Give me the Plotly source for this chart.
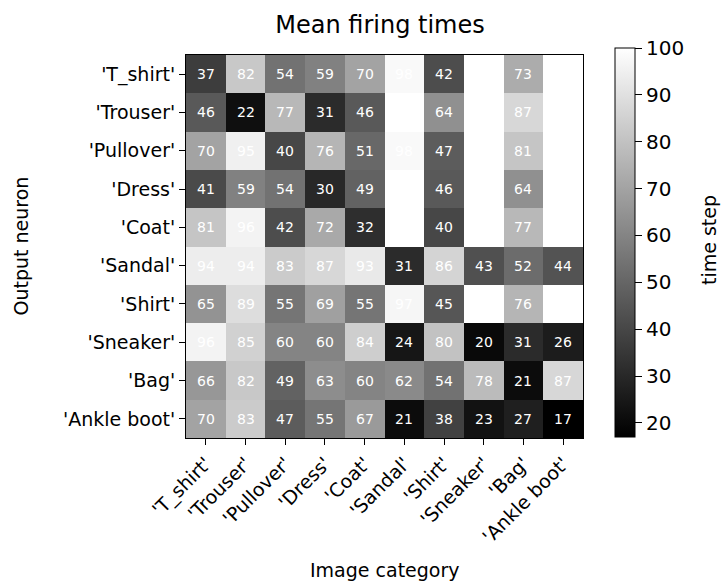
import plotly.graph_objects as go

categories = ["'T_shirt'", "'Trouser'", "'Pullover'", "'Dress'", "'Coat'",
              "'Sandal'", "'Shirt'", "'Sneaker'", "'Bag'", "'Ankle boot'"]

row_tshirt = [37, 82, 54, 59, 70, 98, 42, 100, 73, 100]
row_trouser = [46, 22, 77, 31, 46, 100, 64, 100, 87, 100]
row_pullover = [70, 95, 40, 76, 51, 98, 47, 100, 81, 100]
row_dress = [41, 59, 54, 30, 49, 100, 46, 100, 64, 100]
row_coat = [81, 96, 42, 72, 32, 100, 40, 100, 77, 100]
row_sandal = [94, 94, 83, 87, 93, 31, 86, 43, 52, 44]
row_shirt = [65, 89, 55, 69, 55, 97, 45, 100, 76, 100]
row_sneaker = [96, 85, 60, 60, 84, 24, 80, 20, 31, 26]
row_bag = [66, 82, 49, 63, 60, 62, 54, 78, 21, 87]
row_ankle = [70, 83, 47, 55, 67, 21, 38, 23, 27, 17]

z = [row_tshirt, row_trouser, row_pullover, row_dress, row_coat,
     row_sandal, row_shirt, row_sneaker, row_bag, row_ankle]

colorbar_ticks = [20, 30, 40, 50, 60, 70, 80, 90, 100]

FONT = "DejaVu Sans"
W, H = 722, 585
L, R, T, B = 186, 583, 55, 438  # plot area in pixels
pw, ph = R - L, B - T

fig = go.Figure(go.Heatmap(
    z=z, x=categories, y=categories,
    colorscale=[[0, "black"], [1, "white"]],
    zmin=17, zmax=100,
    texttemplate="%{z}",
    textfont=dict(family=FONT, size=14, color="white"),
    colorbar=dict(
        x=(615 - L) / pw, xanchor="left",
        y=(B - 437) / ph, yanchor="bottom",
        lenmode="pixels", len=389,
        thicknessmode="pixels", thickness=20,
        outlinewidth=1, outlinecolor="black",
        ticks="outside", ticklen=7, tickcolor="black",
        tickvals=colorbar_ticks,
        tickfont=dict(family=FONT, size=20, color="black"),
        xpad=0, ypad=0,
    ),
))

fig.update_layout(
    width=W, height=H,
    margin=dict(l=L, r=W - R, t=T, b=H - B, autoexpand=False),
    paper_bgcolor="white", plot_bgcolor="white",
    font=dict(family=FONT, color="black"),
    title=dict(text="Mean firing times", x=380 / W, xanchor="center",
               y=1 - 25 / H, yanchor="middle",
               font=dict(family=FONT, size=24, color="black")),
    annotations=[
        dict(text="Output neuron", textangle=-90, showarrow=False,
             xref="paper", yref="paper",
             x=(20 - L) / pw, y=0.5, xanchor="center", yanchor="middle",
             font=dict(family=FONT, size=19, color="black")),
        dict(text="Image category", showarrow=False,
             xref="paper", yref="paper",
             x=0.5, y=(B - 570) / ph, xanchor="center", yanchor="middle",
             font=dict(family=FONT, size=19, color="black")),
        dict(text="time step", textangle=-90, showarrow=False,
             xref="paper", yref="paper",
             x=(709 - L) / pw, y=(B - 240) / ph,
             xanchor="center", yanchor="middle",
             font=dict(family=FONT, size=19, color="black")),
    ],
)
fig.update_xaxes(
    tickangle=-45, ticks="outside", ticklen=6, tickcolor="black",
    showline=True, linecolor="black", linewidth=1, mirror=True,
    tickfont=dict(family=FONT, size=19, color="black"),
)
fig.update_yaxes(
    autorange="reversed", ticks="outside", ticklen=6, tickcolor="black",
    showline=True, linecolor="black", linewidth=1, mirror=True,
    tickfont=dict(family=FONT, size=19, color="black"),
)

fig.write_html(
    "out.html",
    config={"displayModeBar": False},
    post_script="document.body.style.margin='0';document.body.style.overflow='hidden';",
)
